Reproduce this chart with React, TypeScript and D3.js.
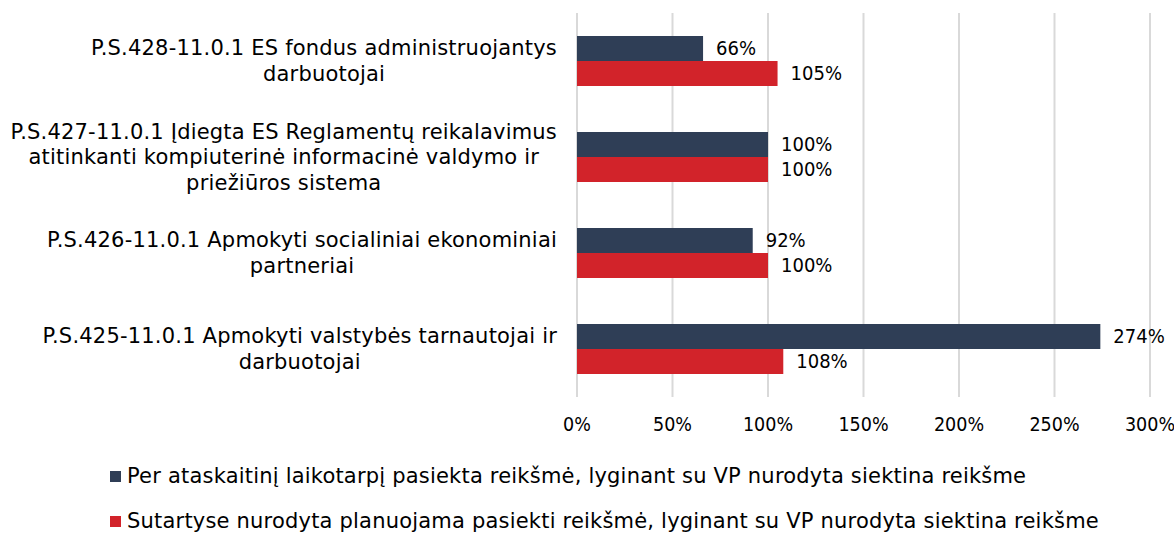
import React, { useEffect, useRef } from "react";
import * as d3 from "d3";

// category labels, already broken into lines like the original
const categories: string[][] = [
  ["P.S.428-11.0.1 ES fondus administruojantys", "darbuotojai"],
  [
    "P.S.427-11.0.1 Įdiegta ES Reglamentų reikalavimus",
    "atitinkanti kompiuterinė informacinė valdymo ir",
    "priežiūros sistema",
  ],
  ["P.S.426-11.0.1 Apmokyti socialiniai ekonominiai", "partneriai"],
  ["P.S.425-11.0.1 Apmokyti valstybės tarnautojai ir", "darbuotojai"],
];

const achieved = [66, 100, 92, 274];
const planned = [105, 100, 100, 108];

const seriesNames = [
  "Per ataskaitinį laikotarpį pasiekta reikšmė, lyginant su VP nurodyta siektina reikšme",
  "Sutartyse nurodyta planuojama pasiekti reikšmė, lyginant su VP nurodyta siektina reikšme",
];
const seriesColors = ["#2f3e56", "#d2232a"];

const xTicks = [0, 50, 100, 150, 200, 250, 300];

const NUM_FONT = "'DejaVu Sans Condensed', 'DejaVu Sans', sans-serif";
const TXT_FONT = "'DejaVu Sans', sans-serif";

export default function App() {
  const ref = useRef<SVGSVGElement>(null);

  function drawChart() {
    const width = 1174,
      height = 533;
    const margin = { top: 13, right: 24, bottom: 136, left: 577 };

    const svg = d3.select(ref.current);
    svg.selectAll("*").remove();

    const x = d3.scaleLinear().domain([0, 300]).range([margin.left, width - margin.right]);
    const y = d3
      .scaleBand<number>()
      .domain(d3.range(categories.length))
      .range([margin.top, height - margin.bottom]);
    const inner = d3.scaleBand<number>().domain([0, 1]).range([0, 50]);
    const barOffset = (y.bandwidth() - 50) / 2;

    // gridlines
    svg
      .append("g")
      .selectAll("line")
      .data(xTicks)
      .enter()
      .append("line")
      .attr("x1", (d) => x(d))
      .attr("x2", (d) => x(d))
      .attr("y1", margin.top)
      .attr("y2", height - margin.bottom)
      .attr("stroke", "#d9d9d9")
      .attr("stroke-width", 2);

    // tick labels
    svg
      .append("g")
      .selectAll("text")
      .data(xTicks)
      .enter()
      .append("text")
      .attr("x", (d) => x(d))
      .attr("y", height - margin.bottom + 28)
      .attr("text-anchor", "middle")
      .attr("dominant-baseline", "middle")
      .style("font-family", NUM_FONT)
      .style("font-size", "19.5px")
      .attr("fill", "#000")
      .text((d) => d + "%");

    const series = [achieved, planned];

    series.forEach((vals, s) => {
      const g = svg.append("g");
      g.selectAll("rect")
        .data(vals)
        .enter()
        .append("rect")
        .attr("x", x(0))
        .attr("y", (d, i) => (y(i) as number) + barOffset + (inner(s) as number))
        .attr("width", (d) => x(d) - x(0))
        .attr("height", inner.bandwidth())
        .attr("fill", seriesColors[s]);

      g.selectAll("text")
        .data(vals)
        .enter()
        .append("text")
        .attr("x", (d) => x(d) + 13)
        .attr("y", (d, i) => (y(i) as number) + barOffset + (inner(s) as number) + inner.bandwidth() / 2 + 1)
        .attr("dominant-baseline", "middle")
        .style("font-family", NUM_FONT)
        .style("font-size", "20px")
        .attr("fill", "#000")
        .text((d) => d + "%");
    });

    // category labels: centred lines, block right-aligned next to the plot
    const labelRight = margin.left - 20;
    const lineH = 25.5;
    categories.forEach((lines, i) => {
      const cy = (y(i) as number) + y.bandwidth() / 2;
      const t = svg
        .append("text")
        .attr("text-anchor", "middle")
        .style("font-family", TXT_FONT)
        .style("font-size", "21px")
        .style("letter-spacing", "0.2px")
        .attr("fill", "#000");
      const spans = lines.map((ln, k) =>
        t
          .append("tspan")
          .attr("y", cy + (k - (lines.length - 1) / 2) * lineH + 1)
          .attr("dominant-baseline", "middle")
          .text(ln)
      );
      const widths = spans.map((sp) => (sp.node() as SVGTSpanElement).getComputedTextLength());
      const cx = labelRight - (d3.max(widths) as number) / 2;
      spans.forEach((sp) => sp.attr("x", cx));
    });

    // legend
    const legend = svg
      .selectAll("g.legend")
      .data(seriesNames)
      .enter()
      .append("g")
      .attr("class", "legend")
      .attr("transform", (d, i) => "translate(110," + (476 + i * 45) + ")");

    legend
      .append("rect")
      .attr("x", 0)
      .attr("y", -5)
      .attr("width", 11)
      .attr("height", 11)
      .attr("fill", (d, i) => seriesColors[i]);

    legend
      .append("text")
      .attr("x", 17)
      .attr("y", 1)
      .attr("dominant-baseline", "middle")
      .style("font-family", TXT_FONT)
      .style("font-size", "21px")
      .style("letter-spacing", "0.2px")
      .attr("fill", "#000")
      .text((d) => d);
  }

  useEffect(() => {
    document.body.style.margin = "0";
    drawChart();
  }, []);

  return <svg ref={ref} width={1174} height={533} style={{ display: "block", background: "#fff" }} />;
}
